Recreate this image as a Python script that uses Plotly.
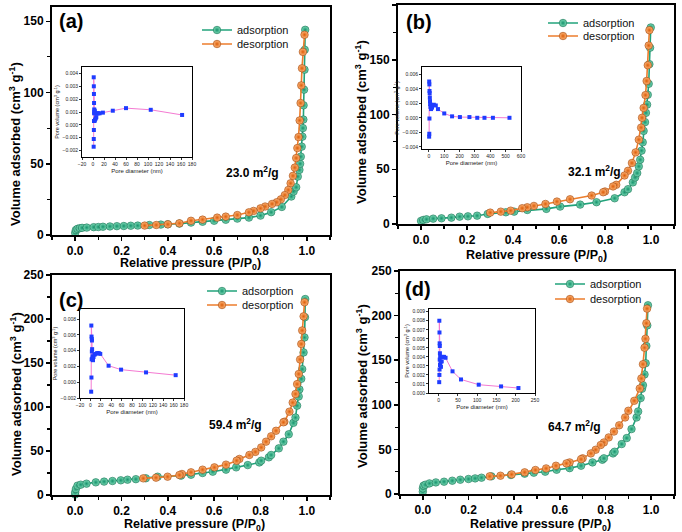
import plotly.graph_objects as go

W, H = 682, 532
FONT = "Arial, Liberation Sans, sans-serif"

# ---------------- data: N2 isotherms ----------------
# (a)
pa_ads = [0.0, 0.003, 0.01, 0.02, 0.03, 0.05, 0.08, 0.10, 0.12, 0.15,
          0.18, 0.21, 0.24, 0.27, 0.32, 0.37, 0.40, 0.45, 0.50, 0.55,
          0.60, 0.65, 0.70, 0.75, 0.80, 0.846, 0.892, 0.933, 0.943, 0.954,
          0.961, 0.968, 0.971, 0.974, 0.978, 0.981, 0.983, 0.985, 0.986, 0.988,
          0.990, 0.991, 0.993]
va_ads = [1.5, 3.5, 4.3, 4.8, 5.0, 5.2, 5.5, 5.6, 5.8, 6.0,
          6.2, 6.3, 6.5, 6.6, 7.0, 7.3, 7.5, 8.0, 8.7, 9.3,
          10.0, 10.7, 11.5, 12.2, 13.6, 16.0, 19.7, 27.0, 30.5, 33.5,
          41.0, 45.7, 50.0, 55.0, 62.0, 69.0, 75.0, 81.0, 91.0, 102.0,
          116.0, 130.0, 144.0]
pa_des = [0.990, 0.983, 0.979, 0.976, 0.973, 0.969, 0.964, 0.959, 0.954, 0.948,
          0.940, 0.930, 0.920, 0.905, 0.888, 0.870, 0.850, 0.820, 0.800, 0.770,
          0.750, 0.700, 0.650, 0.613, 0.550, 0.500, 0.450, 0.400, 0.350, 0.300]
va_des = [140.5, 128.5, 117.0, 105.0, 92.6, 80.4, 68.7, 61.0, 54.0, 47.3,
          41.5, 36.3, 31.6, 28.0, 25.0, 23.0, 21.8, 20.0, 18.7, 16.9,
          15.9, 14.0, 12.9, 12.2, 10.8, 10.0, 8.2, 7.5, 7.0, 6.6]

# (b)
pb_ads = [0.000, 0.010, 0.024, 0.053, 0.089, 0.132, 0.168, 0.204, 0.244, 0.290,
          0.369, 0.405, 0.462, 0.545, 0.605, 0.692, 0.763, 0.842, 0.885, 0.900,
          0.921, 0.931, 0.940, 0.947, 0.953, 0.959, 0.964, 0.968, 0.974, 0.978,
          0.983, 0.986, 0.990, 0.993, 0.996, 0.999]
vb_ads = [2.8, 3.7, 4.3, 4.9, 5.2, 5.8, 6.7, 7.0, 7.6, 9.2,
          10.7, 11.3, 12.8, 13.8, 15.9, 17.7, 19.9, 23.5, 29.0, 31.8,
          38.0, 42.5, 46.5, 52.6, 58.7, 67.0, 74.6, 85.0, 93.0, 101.5,
          109.0, 118.0, 128.0, 146.0, 161.0, 179.5]
pb_des = [0.993, 0.990, 0.986, 0.981, 0.976, 0.968, 0.961, 0.957, 0.947, 0.933,
          0.917, 0.900, 0.885, 0.849, 0.835, 0.800, 0.792, 0.742, 0.648, 0.591,
          0.541, 0.491, 0.462, 0.440, 0.390, 0.347, 0.301]
vb_des = [177.0, 163.0, 145.0, 130.6, 117.7, 106.0, 97.0, 88.0, 77.0, 65.4,
          55.7, 48.6, 44.3, 35.8, 34.3, 29.7, 29.0, 26.0, 22.6, 20.5,
          18.3, 16.5, 15.3, 14.4, 12.2, 11.3, 10.4]

# (c)
pc_ads = [0.000, 0.000, 0.003, 0.010, 0.024, 0.049, 0.089, 0.125, 0.161, 0.197,
          0.226, 0.262, 0.305, 0.356, 0.457, 0.500, 0.550, 0.594, 0.651, 0.695,
          0.745, 0.795, 0.803, 0.836, 0.846, 0.879, 0.899, 0.922, 0.942, 0.951,
          0.958, 0.965, 0.968, 0.976, 0.980, 0.986, 0.990, 0.992, 0.993]
vc_ads = [0.5, 3.0, 6.8, 10.6, 11.7, 12.9, 14.4, 15.2, 15.9, 16.7,
          17.4, 18.0, 19.0, 20.8, 22.0, 23.0, 25.0, 26.5, 28.8, 31.4,
          34.0, 37.0, 39.0, 42.8, 45.5, 53.0, 60.6, 69.0, 82.0, 88.0,
          101.5, 112.0, 120.0, 132.0, 143.0, 162.0, 179.0, 202.0, 222.7]
pc_des = [0.990, 0.986, 0.980, 0.976, 0.971, 0.965, 0.958, 0.951, 0.939, 0.925,
          0.903, 0.899, 0.867, 0.846, 0.824, 0.803, 0.778, 0.752, 0.709, 0.697,
          0.651, 0.601, 0.550, 0.500, 0.461, 0.450, 0.399, 0.349, 0.294]
vc_des = [219.0, 203.0, 187.0, 171.6, 154.0, 137.5, 126.0, 114.8, 105.0, 94.7,
          83.3, 82.6, 73.0, 66.7, 60.6, 54.0, 49.0, 45.5, 41.0, 39.0,
          34.5, 31.4, 28.8, 25.8, 23.9, 22.7, 20.8, 19.7, 18.9]

# (d)
pd_ads = [0.000, 0.000, 0.003, 0.011, 0.029, 0.057, 0.093, 0.129, 0.164, 0.200,
          0.229, 0.257, 0.300, 0.386, 0.446, 0.486, 0.536, 0.586, 0.643, 0.693,
          0.743, 0.786, 0.793, 0.833, 0.840, 0.871, 0.893, 0.914, 0.936, 0.943,
          0.954, 0.960, 0.964, 0.971, 0.976, 0.979, 0.983, 0.986]
vd_ads = [2.6, 6.3, 9.3, 10.4, 11.9, 13.0, 13.8, 14.9, 16.0, 16.8,
          17.5, 18.3, 19.8, 21.3, 22.8, 23.9, 25.0, 27.2, 29.0, 31.7,
          35.4, 38.4, 40.0, 45.5, 47.4, 56.0, 62.7, 72.8, 85.8, 92.5,
          107.5, 118.0, 122.0, 134.0, 146.6, 166.0, 189.0, 211.6]
pd_des = [0.982, 0.979, 0.975, 0.971, 0.964, 0.957, 0.950, 0.926, 0.900, 0.886,
          0.860, 0.837, 0.814, 0.793, 0.779, 0.757, 0.736, 0.700, 0.693, 0.643,
          0.629, 0.583, 0.540, 0.493, 0.446, 0.389, 0.340, 0.293]
vd_des = [207.8, 191.4, 174.0, 164.0, 145.5, 129.5, 118.3, 104.5, 93.3, 85.8,
          77.0, 70.0, 63.4, 57.8, 54.9, 49.6, 45.5, 40.0, 39.0, 35.4,
          34.3, 31.7, 28.7, 26.9, 24.3, 22.0, 20.5, 19.8]

# ---------------- data: pore size distributions (insets) ----------------
da = [1.2, 1.3, 1.4, 1.5, 1.6, 1.7, 1.8, 1.9, 2.0, 2.2, 2.5, 2.8, 3.2, 3.6,
      4.2, 5.0, 6.0, 7.5, 9.5, 12, 18, 36, 60, 105, 162]
pva = [-0.0017, 0.0037, -0.0011, 0.0030, -0.0004, 0.0024, 0.0003, 0.0017, 0.0009,
       0.0012, 0.0010, 0.0003, 0.0011, 0.0004, 0.0009, 0.0005, 0.0006, 0.0009,
       0.0009, 0.0009, 0.00095, 0.0011, 0.0013, 0.00117, 0.00077]
db = [1.5, 2, 2.5, 3, 3.5, 4, 5, 6, 7, 8, 10, 14, 20, 32, 45, 59, 100, 151,
      202, 264, 315, 362, 417, 525]
pvb = [-0.0026, 0.0050, -0.0022, 0.0046, -0.0001, 0.0037, 0.0034, 0.0028, 0.0023,
       0.0019, 0.0015, 0.0012, 0.0014, 0.0018, 0.0017, 0.0012, 0.0006, 0.0002,
       0.0001, 0.0001, 0.0000, 0.0000, 0.0000, 0.0000]
dc = [1.5, 1.8, 2.0, 2.2, 2.4, 2.6, 2.8, 3.0, 3.3, 3.6, 4, 5, 6, 8, 10, 13,
      16, 19, 35, 59, 107, 164]
pvc = [-0.0012, 0.0072, 0.0006, 0.0058, 0.0029, 0.0055, 0.0039, 0.0053, 0.0042,
       0.0030, 0.0033, 0.0028, 0.0032, 0.0035, 0.0036, 0.0037, 0.0037, 0.0036,
       0.0021, 0.0016, 0.00125, 0.0009]
dd = [1.5, 1.8, 2.0, 2.2, 2.4, 2.6, 2.8, 3.0, 3.3, 3.6, 4, 5, 6, 8, 10, 14,
      18, 36, 58, 104, 162, 207]
pvd = [0.0012, 0.0080, 0.0020, 0.0067, 0.0026, 0.0055, 0.0037, 0.0052, 0.0044,
       0.0031, 0.0040, 0.0034, 0.0029, 0.0035, 0.0040, 0.0040, 0.0039, 0.0024,
       0.0015, 0.00092, 0.00073, 0.00055]

labels = ["(a)", "(b)", "(c)", "(d)"]
areas = ["23.0 m<sup>2</sup>/g", "32.1 m<sup>2</sup>/g",
         "59.4 m<sup>2</sup>/g", "64.7 m<sup>2</sup>/g"]

GREEN, GREEN_L = "#16926c", "#7fdcb8"
ORANGE, ORANGE_L = "#dc5e0a", "#ffb77a"
LINE_G, LINE_O = "#22a37b", "#ec7d2c"


def px(x):
    return x / W


def py(y):
    return 1 - y / H


fig = go.Figure()

panels = [
    dict(p1=pa_ads, v1=va_ads, p2=pa_des, v2=va_des, dom=(52, 330, 7, 235), ymax=160,
         ins=(82, 192, 67, 157), d=da, pv=pva, ixr=[-20, 180], ixd=20,
         iyr=[-0.0025, 0.0045], iyd=0.001,
         leg=(197, 30, 44), lab=(71, 21), area=(252, 172), yt=(15, 144), xt=(191, 264)),
    dict(p1=pb_ads, v1=vb_ads, p2=pb_des, v2=vb_des, dom=(398, 674, 5, 224), ymax=200,
         ins=(422, 521, 67, 149), d=db, pv=pvb, ixr=[-45, 600], ixd=100,
         iyr=[-0.0043, 0.007], iyd=0.002,
         leg=(543, 23, 36), lab=(419, 22), area=(594, 171), yt=(361, 122), xt=(536, 256)),
    dict(p1=pc_ads, v1=vc_ads, p2=pc_des, v2=vc_des, dom=(52, 330, 275, 495), ymax=250,
         ins=(80, 184, 309, 398), d=dc, pv=pvc, ixr=[-20, 180], ixd=20,
         iyr=[-0.002, 0.0093], iyd=0.002,
         leg=(202, 291, 305), lab=(71, 300), area=(235, 424), yt=(16, 394), xt=(194, 524.5)),
    dict(p1=pd_ads, v1=vd_ads, p2=pd_des, v2=vd_des, dom=(400, 674, 271, 494), ymax=250,
         ins=(429, 535, 309, 393), d=dd, pv=pvd, ixr=[-25, 250], ixd=50,
         iyr=[0, 0.0093], iyd=0.001,
         leg=(550, 284, 299), lab=(418, 289), area=(574, 426), yt=(362, 386), xt=(540, 524.5)),
]

layout_axes = {}
annotations = []

for i, pnl in enumerate(panels):
    k = i + 1
    kin = i + 5
    xa = "x" if k == 1 else f"x{k}"
    ya = "y" if k == 1 else f"y{k}"
    xi, yi = f"x{kin}", f"y{kin}"
    leg1 = "legend" if k == 1 else f"legend{k}"
    leg2 = f"legend{k + 4}"

    fig.add_trace(go.Scatter(
        x=pnl["p1"], y=pnl["v1"], mode="lines+markers", name="adsorption",
        xaxis=xa, yaxis=ya, legend=leg1, cliponaxis=False,
        line=dict(color=LINE_G, width=1.6),
        marker=dict(size=7.5, color=GREEN_L, symbol="circle",
                    gradient=dict(type="radial", color=GREEN),
                    line=dict(color="#0d6b4d", width=0.6))))
    fig.add_trace(go.Scatter(
        x=pnl["p2"], y=pnl["v2"], mode="lines+markers", name="desorption",
        xaxis=xa, yaxis=ya, legend=leg2, cliponaxis=False,
        line=dict(color=LINE_O, width=1.6),
        marker=dict(size=7.5, color=ORANGE_L, symbol="circle",
                    gradient=dict(type="radial", color=ORANGE),
                    line=dict(color="#a04206", width=0.6))))
    fig.add_trace(go.Scatter(
        x=pnl["d"], y=pnl["pv"], mode="lines+markers", showlegend=False,
        xaxis=xi, yaxis=yi,
        line=dict(color="#f47ad2", width=1),
        marker=dict(size=4, symbol="square", color="#1f3cff")))

    x0, x1, y0, y1 = pnl["dom"]
    common = dict(showline=True, linecolor="black", linewidth=2, mirror=True,
                  showgrid=False, zeroline=False, ticks="outside", ticklen=4,
                  tickwidth=1.5, tickcolor="black", automargin=False,
                  tickfont=dict(family=FONT, size=12, color="black", weight="bold"))
    layout_axes["xaxis" if k == 1 else f"xaxis{k}"] = dict(
        common, domain=[px(x0), px(x1)], anchor=ya, range=[-0.1, 1.1],
        tick0=0, dtick=0.2, tickformat=".1f",
        minor=dict(dtick=0.1, ticks="outside", ticklen=3, tickwidth=1.2,
                   tickcolor="black", showgrid=False))
    layout_axes["yaxis" if k == 1 else f"yaxis{k}"] = dict(
        common, domain=[py(y1), py(y0)], anchor=xa, range=[0, pnl["ymax"]],
        tick0=0, dtick=50,
        minor=dict(dtick=25, ticks="outside", ticklen=3, tickwidth=1.2,
                   tickcolor="black", showgrid=False))

    ix0, ix1, iy0, iy1 = pnl["ins"]
    icommon = dict(showline=True, linecolor="black", linewidth=1, mirror=True,
                   showgrid=False, zeroline=False, ticks="outside", ticklen=2,
                   tickwidth=0.8, tickcolor="black", automargin=False, tickangle=0,
                   tickfont=dict(family=FONT, size=5, color="#222"))
    layout_axes[f"xaxis{kin}"] = dict(
        icommon, domain=[px(ix0), px(ix1)], anchor=yi, range=pnl["ixr"],
        tick0=0, dtick=pnl["ixd"],
        title=dict(text="Pore diameter (nm)", standoff=2,
                   font=dict(family=FONT, size=6, color="#222")))
    layout_axes[f"yaxis{kin}"] = dict(
        icommon, domain=[py(iy1), py(iy0)], anchor=xi, range=pnl["iyr"],
        tick0=0, dtick=pnl["iyd"], tickformat=".3f",
        title=dict(text="Pore volume (cm<sup>3</sup> g<sup>-1</sup>)", standoff=2,
                   font=dict(family=FONT, size=5.5, color="#222")))

    lx, lr1, lr2 = pnl["leg"]
    for lname, ry in ((leg1, lr1), (leg2, lr2)):
        layout_axes[lname] = dict(
            x=px(lx), y=py(ry), xanchor="left", yanchor="middle",
            bgcolor="rgba(0,0,0,0)", borderwidth=0, itemwidth=30,
            tracegroupgap=0, itemsizing="trace",
            font=dict(family=FONT, size=11, color="#111"))

    annotations.append(dict(
        text=labels[i], x=px(pnl["lab"][0]), y=py(pnl["lab"][1]),
        xref="paper", yref="paper", showarrow=False,
        xanchor="center", yanchor="middle",
        font=dict(family=FONT, size=20, color="black", weight="bold")))
    annotations.append(dict(
        text=areas[i], x=px(pnl["area"][0]), y=py(pnl["area"][1]),
        xref="paper", yref="paper", showarrow=False,
        xanchor="center", yanchor="middle",
        font=dict(family=FONT, size=12, color="black", weight="bold")))
    annotations.append(dict(
        text="Volume adsorbed (cm<sup>3</sup> g<sup>-1</sup>)",
        x=px(pnl["yt"][0]), y=py(pnl["yt"][1]), textangle=-90,
        xref="paper", yref="paper", showarrow=False,
        xanchor="center", yanchor="middle",
        font=dict(family=FONT, size=13, color="black", weight="bold")))
    annotations.append(dict(
        text="Relative pressure (P/P<sub>0</sub>)",
        x=px(pnl["xt"][0]), y=py(pnl["xt"][1]),
        xref="paper", yref="paper", showarrow=False,
        xanchor="center", yanchor="middle",
        font=dict(family=FONT, size=12.5, color="black", weight="bold")))

fig.update_layout(
    template="none",
    width=W, height=H, margin=dict(l=0, r=0, t=0, b=0, autoexpand=False),
    paper_bgcolor="white", plot_bgcolor="rgba(0,0,0,0)",
    hovermode=False, annotations=annotations,
    font=dict(family=FONT),
    **layout_axes)

fig.write_html("out.html",
               config={"displayModeBar": False, "staticPlot": True},
               post_script="document.body.style.margin='0';"
                           "document.body.style.overflow='hidden';")
